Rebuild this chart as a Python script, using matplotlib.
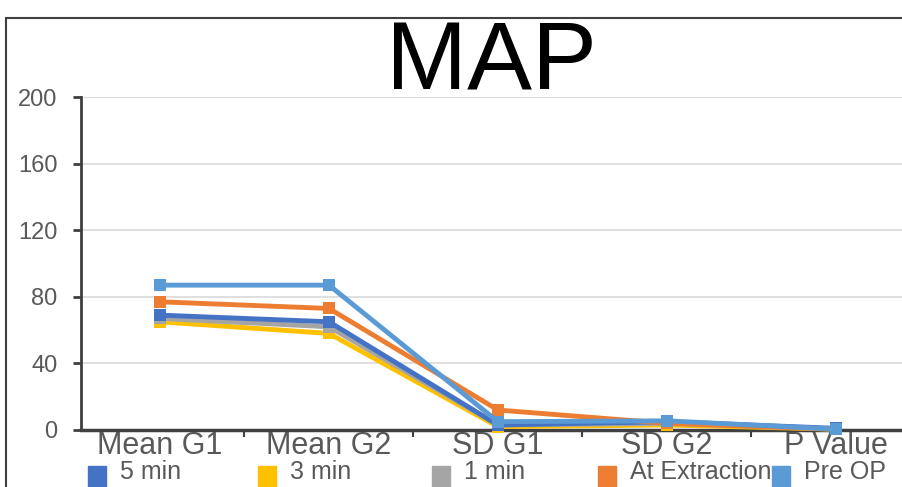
import matplotlib
matplotlib.use("Agg")
import matplotlib.pyplot as plt
from matplotlib.patches import Rectangle

plt.rcParams['font.family'] = ['Liberation Sans', 'DejaVu Sans']

categories = ["Mean G1", "Mean G2", "SD G1", "SD G2", "P Value"]
series_names = ["5 min", "3 min", "1 min", "At Extraction", "Pre OP"]
min5 = [69, 65, 3, 5, 1]
min3 = [65, 58, 2, 3, 0.5]
min1 = [67, 62, 3, 4, 0.5]
at_extraction = [77, 73, 12, 4, 0.5]
pre_op = [87, 87, 5, 5.5, 0.5]
colors = ["#4472C4", "#FFC000", "#A5A5A5", "#ED7D31", "#5B9BD5"]
yticks = [0, 40, 80, 120, 160, 200]

W, H = 902, 487
fig = plt.figure(figsize=(W / 100, H / 100), dpi=100)
fig.patch.set_facecolor("white")

# outer border
fig.add_artist(Rectangle((6 / W, -0.1), 1.2, 1 - 18 / H + 0.1, transform=fig.transFigure,
                         fill=False, edgecolor="#404040", linewidth=1.5))

ax_left, ax_right = 81, 920.5
ax_top, ax_bot = 97, 430
ax = fig.add_axes([ax_left / W, 1 - ax_bot / H, (ax_right - ax_left) / W, (ax_bot - ax_top) / H])
ax.set_facecolor("none")

x = list(range(len(categories)))
all_series = [min5, min3, min1, at_extraction, pre_op]
zorders = [6, 4, 5, 7, 8]
for vals, c, z in zip(all_series, colors, zorders):
    ax.plot(x, vals, color=c, linewidth=3.5, marker="s", markersize=9,
            markeredgewidth=0, zorder=z, clip_on=False)

ax.set_xlim(-0.467, 4.5)
ax.set_ylim(0, 200)
ax.set_yticks(yticks)
ax.set_yticklabels([str(v) for v in yticks])
ax.set_xticks(x)
ax.set_xticklabels(categories)
ax.set_xticks([i + 0.5 for i in range(len(categories))], minor=True)

ax.grid(axis="y", color="#D9D9D9", linewidth=1.2)
ax.set_axisbelow(True)
for s in ["top", "right"]:
    ax.spines[s].set_visible(False)
ax.spines["left"].set_color("#404040")
ax.spines["left"].set_linewidth(2)
ax.spines["bottom"].set_color("#404040")
ax.spines["bottom"].set_linewidth(2.5)

ax.tick_params(axis="y", labelsize=17, labelcolor="#595959", length=6, width=2,
               color="#404040", pad=11)
ax.tick_params(axis="x", which="major", labelsize=22, labelcolor="#595959", length=0, pad=1)
ax.tick_params(axis="x", which="minor", length=5, width=1.5, color="#404040")

# title
fig.text(491 / W, 1 - 90 / H, "MAP", ha="center", va="baseline", fontsize=70, color="black")

# legend drawn manually
leg_sq_x = [88, 258, 432, 598, 772]
sq_w = 18
for i, (name, c, sx) in enumerate(zip(series_names, colors, leg_sq_x)):
    t = fig.text((sx + sq_w + 14) / W, 1 - 472 / H, name, ha="left", va="center",
                 fontsize=18, color="#595959", zorder=2)
    if i < len(series_names) - 1:
        clip = Rectangle((0, 0), (leg_sq_x[i + 1]) / W, 1, transform=fig.transFigure)
        t.set_clip_path(clip)
    fig.add_artist(Rectangle((sx / W, -0.05), sq_w / W, (0.05 + 1 - 466 / H),
                             transform=fig.transFigure, color=c, zorder=3))

fig.savefig("out.png", dpi=100)
